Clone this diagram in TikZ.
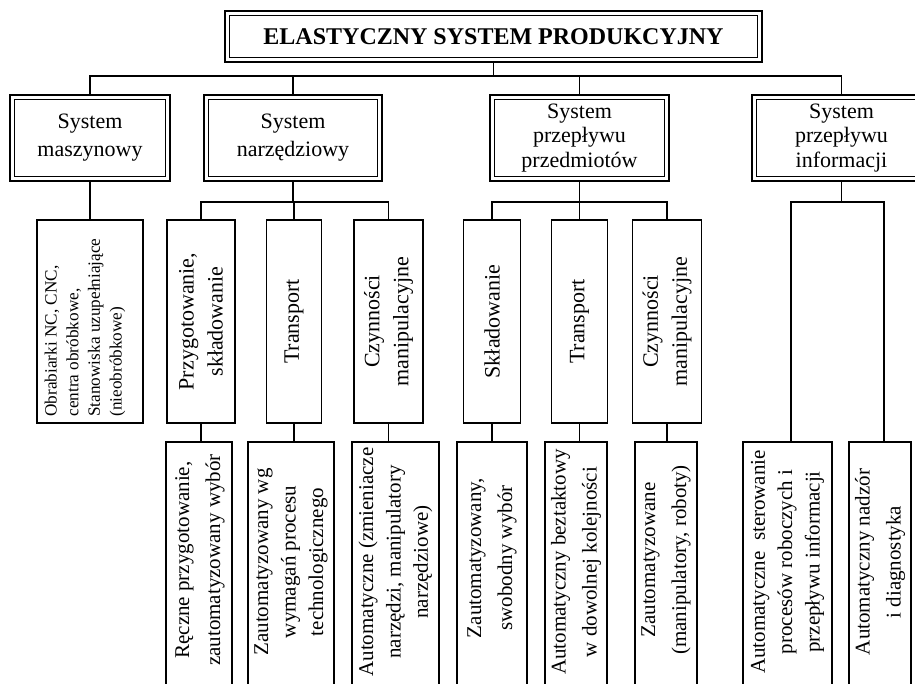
\documentclass[tikz,border=0pt]{standalone}
\usepackage{fontspec}
\setmainfont{Liberation Serif}
\begin{document}
\begin{tikzpicture}[x=0.5pt,y=-0.5pt,
  line join=miter,
  dblbox/.style={draw, line width=1.15pt, outer sep=0pt, inner sep=0pt,
    align=center, rectangle,
    path picture={\draw[line width=0.75pt]
      ([shift={(2.3pt,2.3pt)}]path picture bounding box.south west) rectangle
      ([shift={(-2.3pt,-2.3pt)}]path picture bounding box.north east);}},
  sysbox/.style={dblbox, minimum height=43pt, font=\fontsize{11}{14}\selectfont},
  sysbox3/.style={dblbox, minimum height=43pt, font=\fontsize{11}{12.3}\selectfont},
  leaf/.style={draw, line width=0.9pt, outer sep=0pt, inner sep=0pt, rectangle},
  midbox/.style={leaf, minimum height=101.5pt},
  lowbox/.style={leaf, minimum height=139pt},
  vtext/.style={rotate=90, align=center, inner sep=0pt, font=\fontsize{11}{14.5}\selectfont},
  vtextw/.style={rotate=90, align=center, inner sep=0pt, font=\fontsize{10.5}{15.5}\selectfont},
  vtextn/.style={rotate=90, align=center, inner sep=0pt, font=\fontsize{10.5}{13.7}\selectfont},
  link/.style={line width=0.9pt}
]
\useasboundingbox (0,0) rectangle (915,684);
\clip (0,0) rectangle (915,684);
\fill[white] (0,0) rectangle (915,684);

% top level
\node[dblbox, minimum width=268.5pt, minimum height=25.5pt,
      font=\fontsize{12}{14}\selectfont\bfseries] (title) at (493.5,36.5)
      {ELASTYCZNY SYSTEM PRODUKCYJNY};

% subsystems
\node[sysbox,  minimum width=80pt]   (s1) at (90,138)    {System\\maszynowy};
\node[sysbox,  minimum width=89pt]   (s2) at (293,138)   {System\\narzędziowy};
\node[sysbox3, minimum width=89.5pt] (s3) at (579.5,138) {System\\przepływu\\przedmiotów};
\node[sysbox3, minimum width=89.5pt] (s4) at (841.5,138) {System\\przepływu\\informacji};

% second level boxes
\node[midbox, minimum width=53pt]   (m1) at (90,321.5)    {};
\node[midbox, minimum width=34pt]   (n1) at (201,321.5)   {};
\node[midbox, minimum width=27.5pt] (n2) at (294,321.5)   {};
\node[midbox, minimum width=34.5pt] (n3) at (388.5,321.5) {};
\node[midbox, minimum width=28.5pt] (p1) at (492,321.5)   {};
\node[midbox, minimum width=28pt]   (p2) at (579.5,321.5) {};
\node[midbox, minimum width=34.5pt] (p3) at (667,321.5)   {};

\node[rotate=90, anchor=west, align=left, inner sep=0pt,
      font=\fontsize{8.6}{10.8}\selectfont] (m1t) at (85,417)
  {Obrabiarki NC, CNC,\\centra obróbkowe,\\Stanowiska uzupełniające\\(nieobróbkowe)};
\node[vtext] (n1t) at (n1) {Przygotowanie,\\składowanie};
\node[vtext] (n2t) at (n2) {Transport};
\node[vtext] (n3t) at (n3) {Czynności\\manipulacyjne};
\node[vtext] (p1t) at (p1) {Składowanie};
\node[vtext] (p2t) at (p2) {Transport};
\node[vtext] (p3t) at (p3) {Czynności\\manipulacyjne};

% bottom level boxes
\node[lowbox, minimum width=33pt]   (b1) at (199,581)   {};
\node[lowbox, minimum width=43pt]   (b2) at (291,581)   {};
\node[lowbox, minimum width=43.5pt] (b3) at (395.5,581) {};
\node[lowbox, minimum width=35pt]   (b4) at (492,581)   {};
\node[lowbox, minimum width=31pt]   (b5) at (576,581)   {};
\node[lowbox, minimum width=31pt]   (b6) at (666,581)   {};
\node[lowbox, minimum width=44.5pt] (b7) at (787.5,581) {};
\node[lowbox, minimum width=31pt]   (b8) at (880,581)   {};

\node[vtextw] (b1t) at (200,560) {Ręczne przygotowanie,\\zautomatyzowany wybór};
\node[vtextn] (b2t) at (291,562) {Zautomatyzowany wg\\wymagań procesu\\technologicznego};
\node[vtextn] (b3t) at (395.5,562) {Automatyczne (zmieniacze\\narzędzi, manipulatory\\narzędziowe)};
\node[vtextw] (b4t) at (492,558) {Zautomatyzowany,\\swobodny wybór};
\node[vtextw] (b5t) at (576,562) {Automatyczny beztaktowy\\w dowolnej kolejności};
\node[vtextw] (b6t) at (666,560) {Zautomatyzowane\\(manipulatory, roboty)};
\node[vtextn] (b7t) at (787.5,562) {Automatyczne \ sterowanie\\procesów roboczych i\\przepływu informacji};
\node[vtextw] (b8t) at (880,562) {Automatyczny nadzór\\i diagnostyka};

% connectors
\coordinate (busT) at (493.5,76);
\draw[link] (title.south) -- (busT);
\draw[link] (s1.north) |- (busT) -| (s4.north);
\draw[link] (s2.north) -- (s2.north |- busT);
\draw[link] (s3.north) -- (s3.north |- busT);

\draw[link] (s1.south) -- (m1.north);

\path (s2.south) -- ++(0,-10.5pt) coordinate (jN);
\draw[link] (s2.south) -- (jN);
\draw[link] (n1.north) |- (jN) -| (n3.north);
\draw[link] (n2.north) -- (n2.north |- jN);

\path (s3.south) -- ++(0,-10.5pt) coordinate (jP);
\draw[link] (s3.south) -- (jP);
\draw[link] (p1.north) |- (jP) -| (p3.north);
\draw[link] (p2.north) -- (p2.north |- jP);

\path (s4.south) -- ++(0,-10.5pt) coordinate (jI);
\draw[link] (s4.south) -- (jI);
\draw[link] ([xshift=1.75pt]b7.north) |- (jI) -| ([xshift=2pt]b8.north);

\draw[link] (n1.south) -- (n1.south |- b1.north);
\draw[link] (n2.south) -- (n2.south |- b2.north);
\draw[link] (n3.south) -- (n3.south |- b3.north);
\draw[link] (p1.south) -- (p1.south |- b4.north);
\draw[link] (p2.south) -- (p2.south |- b5.north);
\draw[link] (p3.south) -- (p3.south |- b6.north);
\end{tikzpicture}
\end{document}
